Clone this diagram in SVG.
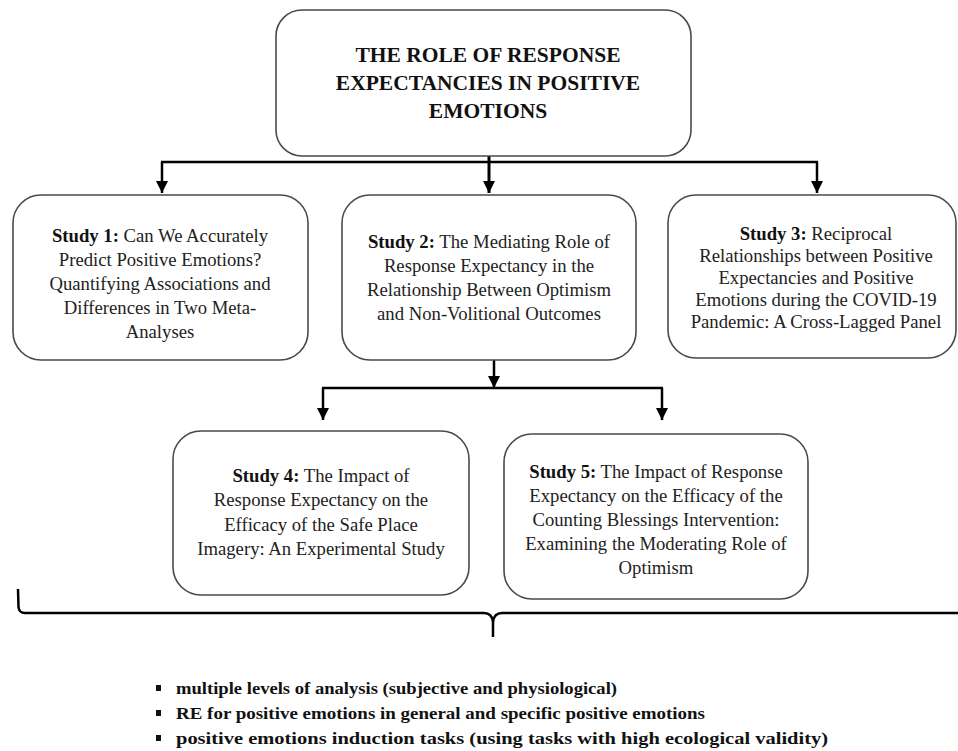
<svg xmlns="http://www.w3.org/2000/svg" width="958" height="751" viewBox="0 0 958 751">
<style>
.box{fill:#fff;stroke:#4a4a4a;stroke-width:1.6}
.title{font-family:'Liberation Serif','Tinos','DejaVu Serif',serif;font-size:21.5px;font-weight:bold;fill:#111;text-anchor:middle}
.t{font-family:'Liberation Serif','Tinos','DejaVu Serif',serif;font-size:18.7px;fill:#222;text-anchor:middle}
.b{font-weight:bold;fill:#111}
.con{stroke:#000;stroke-width:2.5;fill:none}
.bl{font-family:'Liberation Serif','Tinos','DejaVu Serif',serif;font-size:17px;font-weight:bold;fill:#111}
</style>
<defs>
<marker id="arr" markerUnits="userSpaceOnUse" markerWidth="12" markerHeight="12" viewBox="0 0 12 12" refX="12" refY="6" orient="auto">
<path d="M0,0 L12,6 L0,12 z" fill="#000"/>
</marker>
</defs>
<rect width="958" height="751" fill="#fff"/>
<g id="connectors">
<line class="con" x1="489" y1="145" x2="489" y2="193" marker-end="url(#arr)" style="stroke-width:3"/>
<line class="con" x1="161" y1="162" x2="818" y2="162"/>
<line class="con" x1="162" y1="162" x2="162" y2="193" marker-end="url(#arr)"/>
<line class="con" x1="817" y1="162" x2="817" y2="193" marker-end="url(#arr)"/>
<line class="con" x1="494" y1="356" x2="494" y2="388" marker-end="url(#arr)"/>
<line class="con" x1="322" y1="388" x2="663" y2="388"/>
<line class="con" x1="323" y1="388" x2="323" y2="420" marker-end="url(#arr)"/>
<line class="con" x1="662" y1="388" x2="662" y2="420" marker-end="url(#arr)"/>
<path class="con" d="M18,589 L18.5,607 Q19,613 25,613 L484,613 Q492,613 493,622 L493,637 M493,622 Q494,613 502,613 L958,613"/>
</g>
<g id="title">
<rect class="box" x="276" y="10" width="415" height="146" rx="26" ry="26"/>
<text class="title" x="488" y="62">THE ROLE OF RESPONSE</text>
<text class="title" x="488" y="90">EXPECTANCIES IN POSITIVE</text>
<text class="title" x="488" y="118">EMOTIONS</text>
</g>
<g id="study1">
<rect class="box" x="13" y="195" width="295" height="165" rx="28" ry="28"/>
<text class="t" x="160" y="242"><tspan class="b">Study 1:</tspan> Can We Accurately</text>
<text class="t" x="160" y="266">Predict Positive Emotions?</text>
<text class="t" x="160" y="290">Quantifying Associations and</text>
<text class="t" x="160" y="314">Differences in Two Meta-</text>
<text class="t" x="160" y="338">Analyses</text>
</g>
<g id="study2">
<rect class="box" x="342" y="195" width="294" height="165" rx="28" ry="28"/>
<text class="t" x="489" y="248"><tspan class="b">Study 2:</tspan> The Mediating Role of</text>
<text class="t" x="489" y="272">Response Expectancy in the</text>
<text class="t" x="489" y="296">Relationship Between Optimism</text>
<text class="t" x="489" y="320">and Non-Volitional Outcomes</text>
</g>
<g id="study3">
<rect class="box" x="668" y="195" width="288" height="163" rx="28" ry="28"/>
<text class="t" x="816" y="240"><tspan class="b">Study 3:</tspan> Reciprocal</text>
<text class="t" x="816" y="262">Relationships between Positive</text>
<text class="t" x="816" y="284">Expectancies and Positive</text>
<text class="t" x="816" y="306">Emotions during the COVID-19</text>
<text class="t" x="816" y="328">Pandemic: A Cross-Lagged Panel</text>
</g>
<g id="study4">
<rect class="box" x="173" y="431" width="296" height="164" rx="28" ry="28"/>
<text class="t" x="321" y="482"><tspan class="b">Study 4:</tspan> The Impact of</text>
<text class="t" x="321" y="506">Response Expectancy on the</text>
<text class="t" x="321" y="531">Efficacy of the Safe Place</text>
<text class="t" x="321" y="555">Imagery: An Experimental Study</text>
</g>
<g id="study5">
<rect class="box" x="504" y="434" width="304" height="165" rx="28" ry="28"/>
<text class="t" x="656" y="478"><tspan class="b">Study 5:</tspan> The Impact of Response</text>
<text class="t" x="656" y="502">Expectancy on the Efficacy of the</text>
<text class="t" x="656" y="526">Counting Blessings Intervention:</text>
<text class="t" x="656" y="550">Examining the Moderating Role of</text>
<text class="t" x="656" y="574">Optimism</text>
</g>
<g id="bullets">
<rect x="156" y="685" width="5" height="6" fill="#111"/>
<rect x="156" y="710" width="5" height="6" fill="#111"/>
<rect x="156" y="735" width="5" height="6" fill="#111"/>
<text class="bl" x="176" y="694" textLength="441" lengthAdjust="spacingAndGlyphs">multiple levels of analysis (subjective and physiological)</text>
<text class="bl" x="176" y="719" textLength="529" lengthAdjust="spacingAndGlyphs">RE for positive emotions in general and specific positive emotions</text>
<text class="bl" x="176" y="744" textLength="652" lengthAdjust="spacingAndGlyphs">positive emotions induction tasks (using tasks with high ecological validity)</text>
</g>
</svg>
